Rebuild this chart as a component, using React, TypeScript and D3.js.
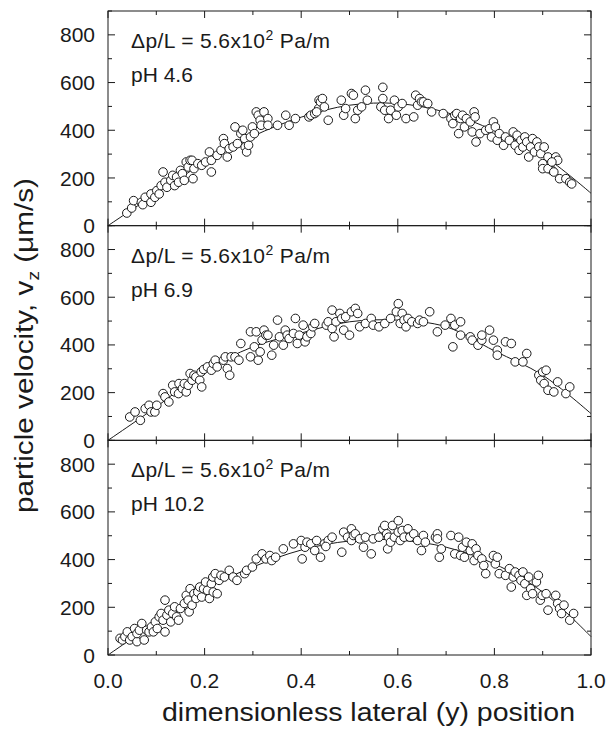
import React from 'react';
import * as d3 from 'd3';

// panel 1: pH 4.6
const ph46Points: [number, number][] = [
  [0.039, 53], [0.049, 74], [0.053, 105], [0.069, 98], [0.072, 88], [0.077, 119], [0.089, 98], [0.089, 133],
  [0.097, 119], [0.101, 147], [0.106, 133], [0.114, 225], [0.11, 168], [0.118, 182], [0.122, 161], [0.13, 190],
  [0.134, 211], [0.138, 168], [0.142, 204], [0.146, 182], [0.15, 232], [0.154, 218], [0.158, 190], [0.162, 267],
  [0.166, 246], [0.17, 274], [0.174, 274], [0.176, 197], [0.178, 239], [0.186, 260], [0.194, 253], [0.202, 267],
  [0.21, 309], [0.214, 225], [0.214, 274], [0.226, 295], [0.234, 316], [0.239, 365], [0.241, 344], [0.247, 288],
  [0.251, 323], [0.263, 414], [0.259, 330], [0.268, 344], [0.275, 386], [0.279, 400], [0.283, 365], [0.284, 330],
  [0.287, 309], [0.291, 337], [0.295, 372], [0.299, 414], [0.303, 386], [0.307, 477], [0.311, 463], [0.315, 442],
  [0.317, 421], [0.323, 477], [0.331, 449], [0.331, 421], [0.351, 421], [0.368, 463], [0.375, 421], [0.388, 449],
  [0.416, 456], [0.42, 463], [0.428, 470], [0.437, 526], [0.436, 491], [0.44, 519], [0.444, 533], [0.448, 498],
  [0.432, 477], [0.456, 442], [0.483, 526], [0.488, 463], [0.492, 491], [0.504, 554], [0.508, 547], [0.512, 449],
  [0.517, 484], [0.525, 498], [0.533, 568], [0.537, 526], [0.569, 580], [0.565, 498], [0.569, 533], [0.573, 484],
  [0.581, 449], [0.585, 484], [0.593, 526], [0.597, 463], [0.601, 498], [0.609, 512], [0.617, 449], [0.633, 456],
  [0.637, 547], [0.641, 505], [0.645, 533], [0.649, 519], [0.653, 519], [0.662, 512], [0.67, 477], [0.694, 470],
  [0.71, 449], [0.714, 428], [0.718, 463], [0.722, 470], [0.726, 386], [0.73, 449], [0.734, 463], [0.738, 414],
  [0.742, 449], [0.75, 435], [0.754, 393], [0.758, 477], [0.76, 456], [0.762, 351], [0.77, 386], [0.782, 400],
  [0.79, 407], [0.794, 372], [0.798, 435], [0.802, 414], [0.806, 358], [0.81, 386], [0.819, 337], [0.823, 372],
  [0.831, 358], [0.839, 393], [0.843, 337], [0.847, 379], [0.851, 316], [0.855, 358], [0.859, 330], [0.863, 372],
  [0.867, 351], [0.871, 288], [0.875, 330], [0.879, 365], [0.883, 309], [0.888, 351], [0.892, 330], [0.896, 302],
  [0.9, 260], [0.9, 239], [0.903, 330], [0.911, 288], [0.919, 232], [0.927, 288], [0.931, 274], [0.911, 239],
  [0.919, 267], [0.923, 225], [0.935, 197], [0.948, 197], [0.956, 182], [0.96, 175],
];

// panel 2: pH 6.9
const ph69Points: [number, number][] = [
  [0.045, 98], [0.056, 119], [0.067, 84], [0.077, 133], [0.085, 147], [0.089, 119], [0.097, 119], [0.101, 147],
  [0.114, 196], [0.118, 182], [0.126, 161], [0.134, 231], [0.138, 203], [0.146, 196], [0.147, 238], [0.154, 217],
  [0.158, 238], [0.162, 203], [0.166, 231], [0.17, 280], [0.174, 252], [0.178, 273], [0.182, 266], [0.19, 252],
  [0.193, 287], [0.194, 224], [0.198, 297], [0.206, 308], [0.214, 294], [0.218, 322], [0.222, 336], [0.226, 308],
  [0.239, 336], [0.243, 350], [0.247, 301], [0.252, 273], [0.255, 350], [0.263, 350], [0.271, 336], [0.275, 406],
  [0.295, 455], [0.295, 350], [0.303, 392], [0.307, 455], [0.311, 336], [0.315, 371], [0.319, 420], [0.323, 462],
  [0.327, 441], [0.331, 441], [0.339, 357], [0.343, 399], [0.351, 504], [0.355, 434], [0.363, 399], [0.367, 462],
  [0.371, 441], [0.375, 427], [0.384, 448], [0.388, 511], [0.392, 406], [0.396, 441], [0.404, 483], [0.408, 413],
  [0.412, 434], [0.42, 448], [0.424, 476], [0.428, 490], [0.452, 483], [0.456, 497], [0.464, 546], [0.464, 469],
  [0.468, 434], [0.472, 497], [0.48, 532], [0.484, 511], [0.492, 518], [0.488, 462], [0.5, 441], [0.504, 539],
  [0.512, 553], [0.517, 532], [0.521, 476], [0.533, 490], [0.545, 511], [0.549, 483], [0.561, 476], [0.573, 490],
  [0.585, 511], [0.597, 539], [0.601, 573], [0.605, 490], [0.609, 532], [0.613, 504], [0.617, 476], [0.621, 511],
  [0.629, 497], [0.641, 490], [0.645, 504], [0.653, 497], [0.666, 539], [0.682, 455], [0.698, 483], [0.71, 511],
  [0.714, 392], [0.718, 483], [0.73, 497], [0.73, 441], [0.75, 434], [0.754, 420], [0.766, 399], [0.774, 420],
  [0.774, 441], [0.79, 462], [0.798, 420], [0.806, 378], [0.806, 357], [0.823, 413], [0.835, 406], [0.843, 329],
  [0.859, 329], [0.867, 364], [0.892, 273], [0.896, 252], [0.9, 287], [0.903, 238], [0.907, 294], [0.911, 210],
  [0.923, 203], [0.931, 245], [0.948, 196], [0.956, 224],
];

// panel 3: pH 10.2
const ph102Points: [number, number][] = [
  [0.025, 70], [0.03, 63], [0.035, 77], [0.04, 97], [0.045, 63], [0.05, 77], [0.055, 111], [0.06, 56],
  [0.06, 90], [0.065, 104], [0.07, 132], [0.075, 63], [0.08, 104], [0.085, 97], [0.09, 118], [0.094, 97],
  [0.098, 139], [0.102, 111], [0.106, 160], [0.11, 174], [0.114, 146], [0.118, 230], [0.118, 97], [0.122, 167],
  [0.126, 188], [0.13, 139], [0.134, 174], [0.138, 202], [0.142, 160], [0.146, 146], [0.15, 195], [0.158, 216],
  [0.162, 250], [0.166, 230], [0.168, 181], [0.17, 278], [0.174, 209], [0.178, 257], [0.182, 237], [0.186, 264],
  [0.19, 285], [0.194, 243], [0.198, 278], [0.202, 306], [0.206, 271], [0.21, 237], [0.214, 299], [0.217, 327],
  [0.218, 264], [0.222, 341], [0.226, 257], [0.23, 313], [0.234, 334], [0.241, 327], [0.251, 355], [0.259, 327],
  [0.267, 313], [0.283, 341], [0.287, 355], [0.299, 369], [0.307, 403], [0.319, 424], [0.327, 403], [0.335, 417],
  [0.339, 396], [0.347, 410], [0.363, 445], [0.384, 466], [0.4, 480], [0.402, 403], [0.408, 452], [0.412, 473],
  [0.42, 466], [0.428, 438], [0.432, 480], [0.44, 410], [0.448, 466], [0.456, 480], [0.464, 494], [0.451, 455],
  [0.484, 431], [0.488, 515], [0.496, 494], [0.504, 529], [0.504, 480], [0.508, 501], [0.512, 508], [0.521, 487],
  [0.529, 452], [0.533, 494], [0.545, 424], [0.549, 487], [0.561, 494], [0.569, 529], [0.573, 543], [0.577, 508],
  [0.579, 445], [0.581, 494], [0.585, 473], [0.589, 543], [0.593, 494], [0.601, 563], [0.601, 515], [0.605, 480],
  [0.609, 522], [0.613, 494], [0.621, 529], [0.625, 494], [0.633, 508], [0.641, 480], [0.649, 438], [0.653, 501],
  [0.657, 473], [0.678, 494], [0.682, 508], [0.682, 487], [0.686, 410], [0.69, 445], [0.71, 501], [0.718, 424],
  [0.726, 494], [0.73, 417], [0.734, 452], [0.738, 410], [0.742, 473], [0.75, 438], [0.754, 466], [0.758, 396],
  [0.762, 445], [0.766, 417], [0.774, 403], [0.778, 375], [0.782, 341], [0.798, 417], [0.802, 382], [0.806, 410],
  [0.81, 341], [0.823, 334], [0.831, 362], [0.835, 285], [0.839, 327], [0.843, 348], [0.851, 334], [0.855, 313],
  [0.859, 348], [0.863, 299], [0.867, 250], [0.871, 327], [0.875, 278], [0.879, 257], [0.887, 306], [0.891, 334],
  [0.895, 230], [0.899, 250], [0.907, 257], [0.911, 188], [0.927, 250], [0.931, 216], [0.935, 195], [0.944, 209],
  [0.939, 174], [0.956, 146], [0.964, 174],
];

const fitX = [0, 0.1, 0.2, 0.3, 0.4, 0.5, 0.6, 0.7, 0.8, 0.9, 1.0];
const ph46Fit = [0, 135, 265, 375, 455, 505, 512, 475, 398, 295, 136];
const ph69Fit = [0, 140, 290, 392, 450, 497, 504, 476, 375, 273, 112];
const ph102Fit = [0, 139, 275, 369, 440, 478, 482, 452, 382, 264, 77];

const panels = [
  { ph: 'pH 4.6', points: ph46Points, fit: ph46Fit },
  { ph: 'pH 6.9', points: ph69Points, fit: ph69Fit },
  { ph: 'pH 10.2', points: ph102Points, fit: ph102Fit },
];

const yTicks = [0, 200, 400, 600, 800];
const xTicks = [0, 0.2, 0.4, 0.6, 0.8, 1.0];

const W = 611, H = 731;
const left = 108, right = 591, top = 11, bottom = 655;
const panelH = (bottom - top) / 3;
const font = '"Liberation Sans", Arial, Helvetica, sans-serif';
const ink = '#1a1a1a';

export default function App() {
  const x = d3.scaleLinear().domain([0, 1]).range([left, right]);
  const xMinor = d3.range(0, 1.0001, 0.1);
  const yMinor = d3.range(0, 901, 100);

  return (
    <svg width={W} height={H} style={{ position: 'absolute', left: 0, top: 0, background: '#fff' }} fontFamily={font}>
      <rect x={0} y={0} width={W} height={H} fill="#fff" />
      {panels.map((p, i) => {
        const y0 = top + i * panelH;
        const y = d3.scaleLinear().domain([0, 900]).range([y0 + panelH, y0]);
        const line = d3.line<number>()
          .x((_, k) => x(fitX[k]))
          .y(d => y(d))
          .curve(d3.curveCatmullRom.alpha(0.5));
        return (
          <g key={i}>
            <rect x={left} y={y0} width={right - left} height={panelH} fill="none" stroke={ink} strokeWidth={1} />
            {xMinor.map((t, k) => {
              const len = k % 2 === 0 ? 7 : 4;
              return (
                <g key={'x' + k} stroke={ink}>
                  <line x1={x(t)} x2={x(t)} y1={y0 + panelH} y2={y0 + panelH - len} />
                  <line x1={x(t)} x2={x(t)} y1={y0} y2={y0 + len} />
                </g>
              );
            })}
            {yMinor.map((t, k) => {
              const len = k % 2 === 0 ? 7 : 4;
              return (
                <g key={'y' + k} stroke={ink}>
                  <line x1={left} x2={left + len} y1={y(t)} y2={y(t)} />
                  <line x1={right} x2={right - len} y1={y(t)} y2={y(t)} />
                </g>
              );
            })}
            {yTicks.map(t => (
              <text key={'yl' + t} x={95} y={y(t)} dy="0.36em" textAnchor="end" fontSize={21} fill={ink}>{t}</text>
            ))}
            <path d={line(p.fit) || ''} fill="none" stroke={ink} strokeWidth={1} />
            {p.points.map((d, k) => (
              <circle key={k} cx={x(d[0])} cy={y(d[1])} r={4.3} fill="#fff" stroke={ink} strokeWidth={1} />
            ))}
            <text x={131} y={y0 + 37} fontSize={21} fill={ink} textLength={199} lengthAdjust="spacing">
              Δp/L = 5.6x10<tspan dy={-8} fontSize={14}>2</tspan><tspan dy={8}> Pa/m</tspan>
            </text>
            <text x={131} y={y0 + 71} fontSize={21} fill={ink}>{p.ph}</text>
          </g>
        );
      })}
      {xTicks.map(t => (
        <text key={'xl' + t} x={x(t)} y={688} textAnchor="middle" fontSize={21} fill={ink}>{t.toFixed(1)}</text>
      ))}
      <text x={162} y={721} fontSize={25} fill={ink} textLength={413} lengthAdjust="spacingAndGlyphs">
        dimensionless lateral (y) position
      </text>
      <text transform="translate(33, 513) rotate(-90)" fontSize={25} fill={ink} textLength={335} lengthAdjust="spacingAndGlyphs">
        particle velocity, v<tspan dy={6} fontSize={16}>z</tspan><tspan dy={-6}> (μm/s)</tspan>
      </text>
    </svg>
  );
}
